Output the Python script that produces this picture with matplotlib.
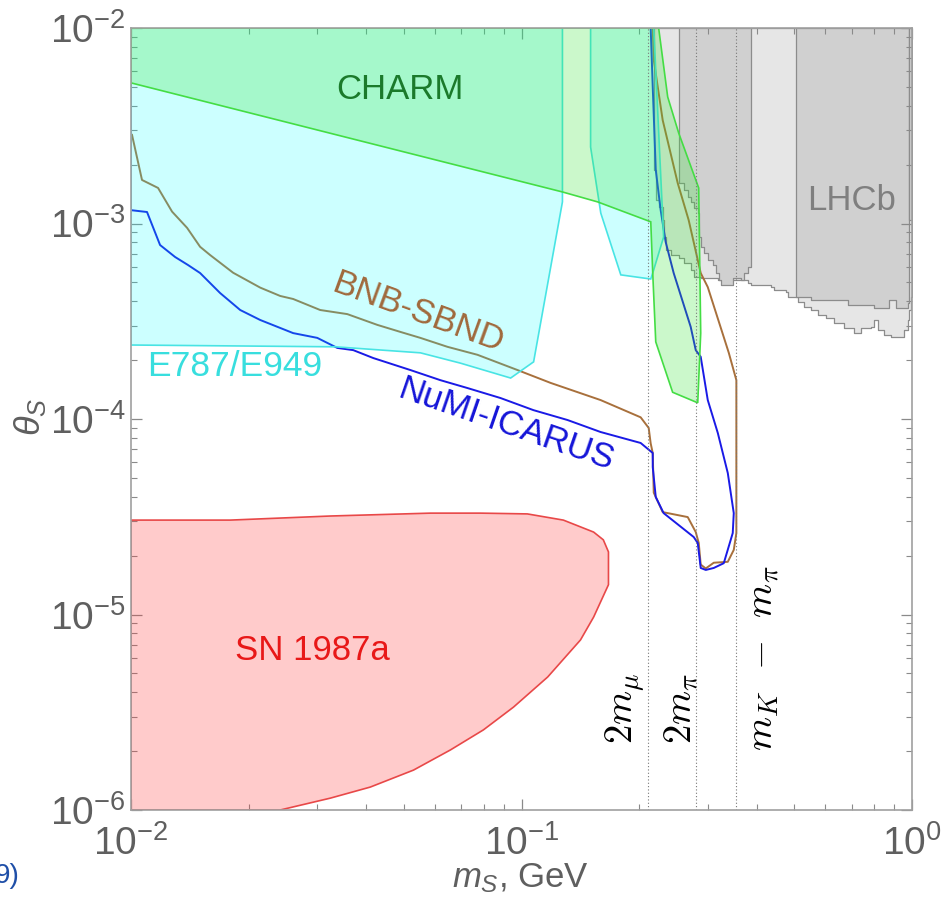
import math
import matplotlib
matplotlib.use("Agg")
import matplotlib.pyplot as plt
from matplotlib.ticker import LogLocator, FuncFormatter, NullFormatter

plt.rcParams['font.family'] = ['Liberation Sans', 'DejaVu Sans']
plt.rcParams['mathtext.fontset'] = 'custom'
plt.rcParams['mathtext.rm'] = 'Liberation Sans'
plt.rcParams['mathtext.it'] = 'Liberation Sans:italic'
plt.rcParams['mathtext.bf'] = 'Liberation Sans:bold'
plt.rcParams['mathtext.sf'] = 'Liberation Sans'

# ---------------- data (m_S in GeV, theta_S) ----------------
charm_x = [0.01, 0.01, 0.1273, 0.1566, 0.2143, 0.2168, 0.2207, 0.2438, 0.2827, 0.2877, 0.2843, 0.2527, 0.2368, 0.2245]
charm_y = [1e-2, 5.24e-3, 1.45e-3, 1.29e-3, 1.02e-3, 5.58e-4, 2.48e-4, 1.37e-4, 1.21e-4, 2.75e-4, 1.52e-3, 2.90e-3, 4.44e-3, 1e-2]

e787a_x = [0.01, 0.01, 0.0334, 0.0551, 0.0698, 0.0938, 0.1074, 0.1273, 0.1273]
e787a_y = [1e-2, 2.39e-4, 2.34e-4, 2.18e-4, 1.93e-4, 1.62e-4, 1.96e-4, 1.29e-3, 1e-2]
e787b_x = [0.1503, 0.1503, 0.1596, 0.1796, 0.2143, 0.2168, 0.2312, 0.2181]
e787b_y = [1e-2, 2.46e-3, 1.13e-3, 5.46e-4, 5.20e-4, 5.58e-4, 8.53e-4, 1e-2]

sn_x = [0.01, 0.01795, 0.0324, 0.0585, 0.0785, 0.1035, 0.128, 0.153, 0.162, 0.167, 0.167,
        0.153, 0.1416, 0.1167, 0.0954, 0.0799, 0.0658, 0.0529, 0.0410, 0.0324, 0.0241, 0.01]
sn_y = [3.04e-5, 3.04e-5, 3.19e-5, 3.30e-5, 3.30e-5, 3.27e-5, 3.04e-5, 2.64e-5, 2.41e-5, 2.09e-5, 1.42e-5,
        9.7e-6, 7.41e-6, 4.79e-6, 3.36e-6, 2.57e-6, 2.03e-6, 1.60e-6, 1.31e-6, 1.15e-6, 1e-6, 1e-6]

bnb_x = [0.01006, 0.01067, 0.01173, 0.01274, 0.01392, 0.01503, 0.01594, 0.01826, 0.02142, 0.02410,
         0.02602, 0.03051, 0.03580, 0.04273, 0.04894, 0.05508, 0.06462, 0.07714, 0.09766, 0.1187,
         0.1594, 0.2019, 0.2117, 0.2142, 0.2168, 0.2181, 0.2299, 0.2665, 0.2794, 0.2844,
         0.2877, 0.2964, 0.3107, 0.3375, 0.3496, 0.3550, 0.3550, 0.3395, 0.2999, 0.2877,
         0.2680, 0.2512, 0.2299, 0.2181, 0.2168]
bnb_y = [2.84e-3, 1.67e-3, 1.52e-3, 1.15e-3, 9.5e-4, 7.6e-4, 6.9e-4, 5.6e-4, 4.7e-4, 4.26e-4,
         4.11e-4, 3.61e-4, 3.44e-4, 3.03e-4, 2.79e-4, 2.60e-4, 2.34e-4, 2.13e-4, 1.78e-4, 1.53e-4,
         1.25e-4, 1.02e-4, 9.0e-5, 7.5e-5, 6.7e-5, 4.2e-5, 3.34e-5, 3.15e-5, 2.64e-5, 2.32e-5,
         1.80e-5, 1.72e-5, 1.84e-5, 1.86e-5, 2.14e-5, 2.61e-5, 1.58e-4, 2.18e-4, 4.73e-4, 5.58e-4,
         1.04e-3, 1.61e-3, 3.38e-3, 6.86e-3, 1e-2]

numi_x = [0.01, 0.01, 0.01099, 0.01187, 0.01297, 0.01400, 0.01503, 0.01691, 0.01904, 0.02142,
          0.02602, 0.02999, 0.03375, 0.03709, 0.04173, 0.05193, 0.06198, 0.07271, 0.08837, 0.1073,
          0.1312, 0.1594, 0.2019, 0.2168, 0.2168, 0.2207, 0.2312, 0.2761, 0.2827, 0.2877,
          0.2964, 0.3107, 0.3296, 0.3475, 0.3496, 0.3375, 0.3182, 0.2999, 0.2877, 0.2794,
          0.2712, 0.2453, 0.2340, 0.2272, 0.2207, 0.2168, 0.2142]
numi_y = [1e-2, 1.17e-3, 1.145e-3, 7.76e-4, 6.74e-4, 6.13e-4, 5.58e-4, 4.41e-4, 3.61e-4, 3.21e-4,
          2.75e-4, 2.60e-4, 2.31e-4, 2.25e-4, 2.05e-4, 1.78e-4, 1.58e-4, 1.44e-4, 1.28e-4, 1.11e-4,
          9.88e-5, 8.58e-5, 7.54e-5, 6.70e-5, 5.68e-5, 3.99e-5, 3.30e-5, 2.49e-5, 2.32e-5, 1.73e-5,
          1.69e-5, 1.73e-5, 1.83e-5, 2.61e-5, 3.30e-5, 5.29e-5, 8.48e-5, 1.25e-4, 2.08e-4, 2.25e-4,
          2.96e-4, 5.58e-4, 8.04e-4, 1.17e-3, 1.88e-3, 4.99e-3, 1e-2]

lhcb_light_x = [0.2181, 0.2207, 0.2245, 0.2299, 0.2312, 0.2340, 0.2411, 0.2527, 0.2603, 0.2712,
                0.2761, 0.2877, 0.3182, 0.3643, 0.3797, 0.3866, 0.4350, 0.4428, 0.4753, 0.4810,
                0.5103, 0.5285, 0.5508, 0.5741, 0.6019, 0.6310, 0.6692, 0.7100, 0.7400, 0.7851,
                0.7992, 0.8182, 0.8476, 0.8834, 0.9372, 0.9539, 0.9766, 0.9825, 0.9943, 1.0]
lhcb_light_y = [1.88e-3, 1.32e-3, 1.22e-3, 1.04e-3, 8.5e-4, 7.3e-4, 6.9e-4, 6.7e-4, 6.3e-4, 5.8e-4,
                5.3e-4, 5.26e-4, 5.14e-4, 5.14e-4, 4.96e-4, 4.84e-4, 4.73e-4, 4.57e-4, 4.46e-4, 4.21e-4,
                3.97e-4, 3.74e-4, 3.61e-4, 3.40e-4, 3.28e-4, 3.10e-4, 2.92e-4, 2.75e-4, 2.92e-4, 2.96e-4,
                3.21e-4, 2.85e-4, 2.69e-4, 2.63e-4, 2.63e-4, 2.85e-4, 3.21e-4, 3.61e-4, 4.21e-4, 4.96e-4]
lhcb_dark1_x = [0.2527, 0.2603, 0.2665, 0.2712, 0.2761, 0.2827, 0.2844, 0.2877, 0.2929, 0.2999,
                0.3088, 0.3144, 0.3200, 0.3239, 0.3375, 0.3475, 0.3643, 0.3709, 0.3797, 0.3866]
lhcb_dark1_y = [1.61e-3, 1.48e-3, 1.37e-3, 1.29e-3, 1.20e-3, 1.13e-3, 8.5e-4, 7.6e-4, 7.06e-4, 6.51e-4,
                6.13e-4, 5.58e-4, 5.14e-4, 4.84e-4, 4.84e-4, 5.26e-4, 5.14e-4, 5.58e-4, 5.99e-4, 6.13e-4]
lhcb_dark2_x = [0.5043, 0.5508, 0.6853, 0.7992, 0.8730, 0.9100, 0.9766, 0.9825]
lhcb_dark2_y = [4.21e-4, 4.06e-4, 3.83e-4, 3.70e-4, 4.06e-4, 3.70e-4, 3.92e-4, 4.57e-4]
lhcb_strip_x = [0.9825, 1.0]
lhcb_strip_y = [1.04e-3, 1.04e-3]

thresholds = [0.2113, 0.2791, 0.3541]
threshold_labels = [r'$2m_\mu$', r'$2m_\pi$', r'$m_K\;\,-\;\,m_\pi$']
threshold_label_x = [0.1848, 0.2557, 0.4150]
threshold_label_y = [2.18e-6, 2.18e-6, 2.0e-6]

# ---------------- figure ----------------
fig = plt.figure(figsize=(9.51, 8.99), dpi=100)
ax = fig.add_axes([131/951, 1-810/899, (912-131)/951, (810-28)/899])
ax.set_xscale('log')
ax.set_yscale('log')
ax.set_xlim(1e-2, 1.0)
ax.set_ylim(1e-6, 1e-2)

# LHCb (opaque greys)
gedge = '#8c8c8c'
ax.fill_between(lhcb_light_x, lhcb_light_y, 1e-2, step='post', facecolor='#e6e6e6',
                edgecolor=gedge, lw=0.9, zorder=1)
for xs, ys in [(lhcb_dark1_x, lhcb_dark1_y), (lhcb_dark2_x, lhcb_dark2_y), (lhcb_strip_x, lhcb_strip_y)]:
    ax.fill_between(xs, ys, 1e-2, step='post', facecolor='#d0d0d0', edgecolor=gedge, lw=0.9, zorder=1.5)

# sensitivity curves
ax.plot(bnb_x, bnb_y, color='#a8703c', lw=1.4, zorder=2)
ax.plot(numi_x, numi_y, color='#1a1ae6', lw=1.4, zorder=2.1)

# translucent exclusion regions drawn over the curves
ax.fill(e787a_x, e787a_y, facecolor=(0.0, 1.0, 1.0, 0.2), edgecolor='#48e4e4', lw=1.2, zorder=3)
ax.fill(e787b_x, e787b_y, facecolor=(0.0, 1.0, 1.0, 0.2), edgecolor='#48e4e4', lw=1.2, zorder=3)
ax.fill(charm_x, charm_y, facecolor=(0.2, 0.9, 0.2, 0.25), edgecolor='#44dd44', lw=1.2, zorder=3.1)
ax.fill(sn_x, sn_y, facecolor=(1.0, 0.2, 0.2, 0.25), edgecolor='#e84848', lw=1.2, zorder=3)

for t in thresholds:
    ax.axvline(t, color='#777777', ls=(0, (1, 2)), lw=0.8, zorder=4)

# labels
ax.text(0.04895, 4.82e-3, 'CHARM', color='#1b7a2b', fontsize=25, ha='center', va='center', zorder=6)
ax.text(0.7018, 1.318e-3, 'LHCb', color='#7f7f7f', fontsize=25, ha='center', va='center', zorder=6)
ax.text(0.0544, 3.48e-4, 'BNB-SBND', color='#a0693c', fontsize=25, ha='center', va='center',
        rotation=-20, zorder=6)
ax.text(0.01099, 1.85e-4, 'E787/E949', color='#38dede', fontsize=25.5, ha='left', va='center', zorder=6)
ax.text(0.0910, 9.3e-5, 'NuMI-ICARUS', color='#1515d8', fontsize=25, ha='center', va='center',
        rotation=-19, zorder=6)
ax.text(0.0291, 6.58e-6, 'SN 1987a', color='#e81818', fontsize=25, ha='center', va='center', zorder=6)
for lx, ly, lab in zip(threshold_label_x, threshold_label_y, threshold_labels):
    ax.text(lx, ly, lab, rotation=90, ha='center', va='bottom', fontsize=28,
            color='black', math_fontfamily='cm', zorder=6)

# axes styling
for sp in ax.spines.values():
    sp.set_color('#a0a0a0')
    sp.set_linewidth(1.2)
    sp.set_zorder(7)
fmt = FuncFormatter(lambda v, p: r'$10^{%d}$' % round(math.log10(v)))
ax.xaxis.set_major_locator(LogLocator(base=10, numticks=10))
ax.yaxis.set_major_locator(LogLocator(base=10, numticks=10))
ax.xaxis.set_major_formatter(fmt)
ax.yaxis.set_major_formatter(fmt)
ax.xaxis.set_minor_locator(LogLocator(base=10, subs=range(2, 10), numticks=20))
ax.yaxis.set_minor_locator(LogLocator(base=10, subs=range(2, 10), numticks=20))
ax.xaxis.set_minor_formatter(NullFormatter())
ax.yaxis.set_minor_formatter(NullFormatter())
ax.tick_params(which='both', direction='in', top=True, right=True, colors='#8a8a8a',
               labelcolor='#5f5f5f', labelsize=28)
ax.tick_params(which='major', length=8, width=0.9)
ax.tick_params(which='minor', length=4, width=0.8)
ax.tick_params(axis='x', pad=11)
ax.tick_params(axis='y', pad=4)

fig.text(520/951, 1-878/899, r'$m_S$, GeV', color='#5f5f5f', fontsize=25, ha='center', va='center')
fig.text(30/951, 1-417/899, r'$\theta_S$', color='#5f5f5f', fontsize=26, ha='center', va='center',
         rotation=90)
fig.text(-0.006, 1-876/899, '9)', color='#1f4fa8', fontsize=20, ha='left', va='center')

fig.savefig('out.png', dpi=100)
